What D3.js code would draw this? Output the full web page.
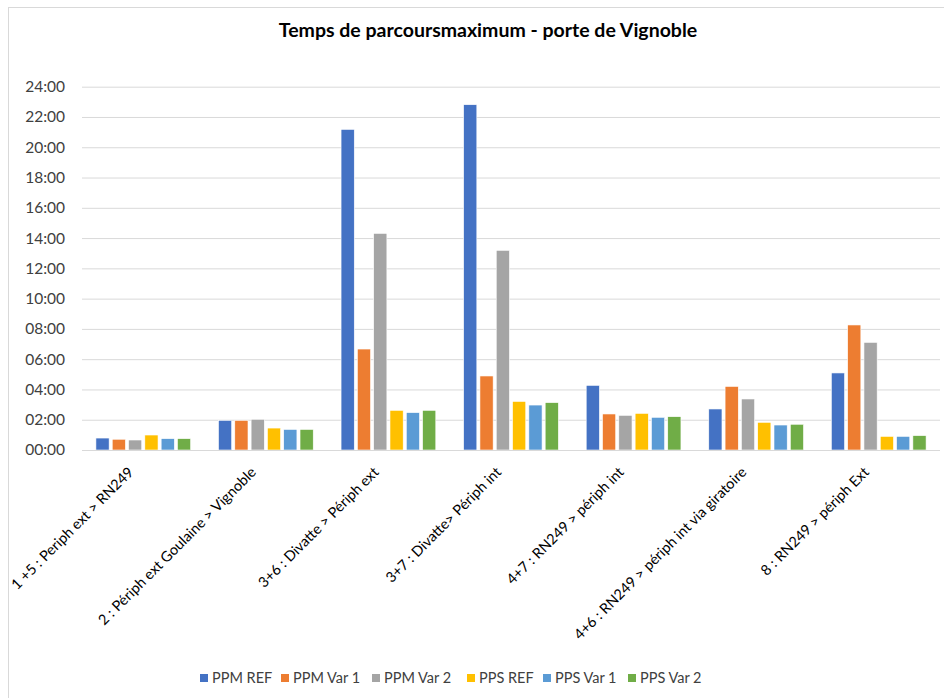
<!DOCTYPE html>
<html>
<head>
<meta charset="utf-8">
<script src="https://cdn.jsdelivr.net/npm/d3@7"></script>
<style>
  html, body { margin: 0; padding: 0; background: #fff; }
  svg { display: block; font-family: Lato, "Open Sans", sans-serif; }
</style>
</head>
<body>
<svg id="chart" width="944" height="698"></svg>
<script>
// Route categories (x axis)
const categories = [
  "1 +5 : Periph ext > RN249",
  "2 : Périph ext Goulaine > Vignoble",
  "3+6 : Divatte > Périph ext",
  "3+7 : Divatte> Périph int",
  "4+7 : RN249 > périph int",
  "4+6 : RN249 > périph int via giratoire",
  "8 : RN249 > périph Ext"
];

// Series names (legend)
const seriesNames = ["PPM REF", "PPM Var 1", "PPM Var 2", "PPS REF", "PPS Var 1", "PPS Var 2"];

// Maximum travel time per route, in minutes
const ppmRef  = [0.79, 1.96, 21.18, 22.81, 4.27, 2.71, 5.09];
const ppmVar1 = [0.71, 1.96, 6.67, 4.89, 2.38, 4.20, 8.26];
const ppmVar2 = [0.66, 2.03, 14.31, 13.19, 2.29, 3.37, 7.11];
const ppsRef  = [0.99, 1.45, 2.62, 3.21, 2.42, 1.83, 0.90];
const ppsVar1 = [0.75, 1.36, 2.47, 2.97, 2.16, 1.65, 0.90];
const ppsVar2 = [0.75, 1.36, 2.62, 3.13, 2.20, 1.70, 0.95];

// Y axis ticks, in minutes (labelled mm:ss)
const yTicks = [0, 2, 4, 6, 8, 10, 12, 14, 16, 18, 20, 22, 24];

const colors = ["#4472C4", "#ED7D31", "#A5A5A5", "#FFC000", "#5B9BD5", "#70AD47"];
const seriesValues = [ppmRef, ppmVar1, ppmVar2, ppsRef, ppsVar1, ppsVar2];

const svg = d3.select("#chart");

// chart frame
svg.append("rect")
  .attr("x", 8.5).attr("y", 7.5)
  .attr("width", 960).attr("height", 720)
  .attr("fill", "#fff")
  .attr("stroke", "#d9d9d9").attr("stroke-width", 1);

const plot = { left: 82, right: 940, top: 86.7, bottom: 450 };

const x0 = d3.scaleBand()
  .domain(categories)
  .range([plot.left, plot.right])
  .paddingInner(0.227)
  .paddingOuter(0.1135);

const x1 = d3.scaleBand()
  .domain(seriesNames)
  .range([0, x0.bandwidth()])
  .paddingInner(0.19)
  .paddingOuter(0);

const y = d3.scaleLinear()
  .domain([0, 24])
  .range([plot.bottom, plot.top]);

const fmt = m => {
  const mm = Math.floor(m);
  const ss = Math.round((m - mm) * 60);
  return String(mm).padStart(2, "0") + ":" + String(ss).padStart(2, "0");
};

// gridlines + y labels
const yAxis = d3.axisLeft(y)
  .tickValues(yTicks)
  .tickFormat(fmt)
  .tickSize(-(plot.right - plot.left))
  .tickPadding(17);

const gy = svg.append("g")
  .attr("transform", `translate(${plot.left},0)`)
  .call(yAxis);
gy.select(".domain").remove();
gy.selectAll(".tick line").attr("stroke", "#d9d9d9").attr("stroke-width", 1);
gy.selectAll(".tick text")
  .attr("fill", "#404040")
  .attr("font-size", 15.5)
  .attr("font-family", "Lato, sans-serif");

// bars
const groups = svg.append("g")
  .selectAll("g")
  .data(categories)
  .join("g")
  .attr("transform", d => `translate(${x0(d)},0)`);

groups.selectAll("rect")
  .data((c, i) => seriesNames.map((s, j) => ({ s, v: seriesValues[j][i], c: colors[j] })))
  .join("rect")
  .attr("x", d => x1(d.s))
  .attr("width", x1.bandwidth())
  .attr("y", d => y(d.v))
  .attr("height", d => y(0) - y(d.v))
  .attr("fill", d => d.c)
  .attr("stroke", "#fff")
  .attr("stroke-width", 0.6);

// x axis baseline
svg.append("line")
  .attr("x1", plot.left).attr("x2", plot.right)
  .attr("y1", plot.bottom + 0.5).attr("y2", plot.bottom + 0.5)
  .attr("stroke", "#d9d9d9").attr("stroke-width", 1);

// rotated category labels
svg.append("g")
  .selectAll("text")
  .data(categories)
  .join("text")
  .attr("transform", d => `translate(${x0(d) + x0.bandwidth() / 2 - 16},${plot.bottom + 16}) rotate(-45)`)
  .attr("text-anchor", "end")
  .attr("dy", "0.7em")
  .attr("font-size", 14.5)
  .attr("fill", "#000")
  .text(d => d);

// title
svg.append("text")
  .attr("x", 488).attr("y", 37)
  .attr("text-anchor", "middle")
  .attr("font-size", 19.5)
  .attr("font-weight", "bold")
  .attr("fill", "#000")
  .text("Temps de parcoursmaximum - porte de Vignoble");

// legend
const legendX = [200, 281, 372, 467, 543, 628];
const legend = svg.append("g")
  .selectAll("g")
  .data(seriesNames)
  .join("g")
  .attr("transform", (d, i) => `translate(${legendX[i]},678)`);
legend.append("rect")
  .attr("x", 0).attr("y", -4)
  .attr("width", 8).attr("height", 8)
  .attr("fill", (d, i) => colors[i]);
legend.append("text")
  .attr("x", 12).attr("y", 0)
  .attr("dy", "0.35em")
  .attr("font-size", 14.5)
  .attr("fill", "#404040")
  .text(d => d);
</script>
</body>
</html>
